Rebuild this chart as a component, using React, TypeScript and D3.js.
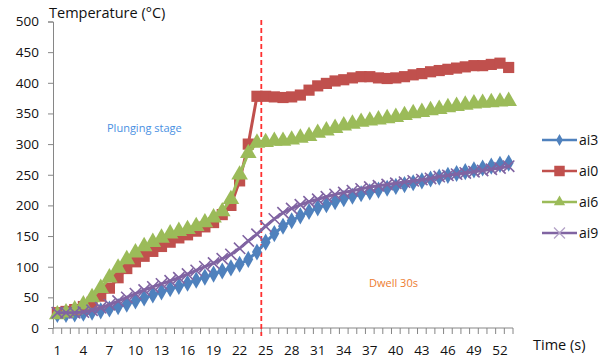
import React, { useEffect, useRef } from 'react';
import * as d3 from 'd3';

const times = d3.range(1, 54);
const tickLabels = [1, 4, 7, 10, 13, 16, 19, 22, 25, 28, 31, 34, 37, 40, 43, 46, 49, 52];
const yTicks = [0, 50, 100, 150, 200, 250, 300, 350, 400, 450, 500];

const ai3 = [22, 22, 23, 24, 26, 28, 31, 35, 39, 44, 49, 54, 59, 64, 68, 73, 78, 83, 88, 93, 98, 104, 112, 124,
  140, 154, 166, 175, 183, 190, 196, 201, 206, 211, 215, 219, 222, 225, 228, 231, 234, 237, 240, 243, 246, 249,
  252, 255, 258, 261, 264, 267, 269];
const ai0 = [25, 27, 30, 35, 42, 52, 65, 82, 97, 108, 117, 125, 133, 140, 147, 152, 158, 165, 172, 185, 200, 240,
  300, 378, 378, 377, 376, 377, 380, 388, 395, 399, 403, 405, 408, 410, 410, 408, 407, 408, 410, 413, 415, 418,
  420, 422, 424, 426, 428, 428, 430, 432, 425];
const ai6 = [22, 25, 30, 38, 50, 65, 82, 98, 112, 123, 133, 140, 147, 154, 158, 161, 166, 172, 180, 190, 210, 250,
  285, 302, 303, 305, 305, 307, 310, 313, 318, 322, 326, 330, 333, 336, 338, 340, 342, 344, 347, 350, 352, 355,
  357, 360, 362, 364, 366, 367, 368, 369, 370];
const ai9 = [25, 25, 25, 26, 29, 33, 38, 44, 50, 56, 62, 67, 72, 77, 82, 88, 94, 100, 106, 113, 120, 130, 142, 153,
  166, 178, 188, 195, 201, 206, 210, 214, 218, 221, 224, 227, 230, 232, 234, 236, 238, 240, 242, 244, 247, 249,
  251, 253, 255, 257, 259, 261, 264];

const series = [
  { name: 'ai3', values: ai3, color: '#4f81bd', marker: 'diamond' },
  { name: 'ai0', values: ai0, color: '#c0504d', marker: 'square' },
  { name: 'ai6', values: ai6, color: '#9bbb59', marker: 'triangle' },
  { name: 'ai9', values: ai9, color: '#8064a2', marker: 'cross' },
];

const FONT = '"Open Sans", Lato, sans-serif';

function App() {
  const ref = useRef<SVGSVGElement>(null);

  useEffect(() => {
    const svg = d3.select(ref.current);
    svg.selectAll('*').remove();

    const x = d3.scaleBand<number>().domain(times).range([53, 513]);
    const y = d3.scaleLinear().domain([0, 500]).range([328, 21.5]);
    const cx = (t: number) => (x(t) as number) + x.bandwidth() / 2;

    // y axis
    const yAxis = d3.axisLeft(y).tickValues(yTicks).tickSize(5).tickPadding(9);
    const gy = svg.append('g').attr('transform', 'translate(53,0)').call(yAxis);
    gy.select('.domain').attr('stroke', '#868686');
    gy.selectAll('.tick line').attr('stroke', '#868686');
    gy.selectAll('.tick text').attr('font-family', FONT).attr('font-size', 13.5).attr('fill', '#111');

    // x axis: ticks between categories like excel
    const gx = svg.append('g');
    gx.append('line').attr('x1', 53).attr('x2', 513).attr('y1', 328).attr('y2', 328).attr('stroke', '#868686');
    gx.selectAll('.tk')
      .data(times.concat([54]))
      .enter()
      .append('line')
      .attr('x1', (d) => (d === 54 ? 513 : (x(d) as number)))
      .attr('x2', (d) => (d === 54 ? 513 : (x(d) as number)))
      .attr('y1', 328)
      .attr('y2', 334)
      .attr('stroke', '#868686');
    gx.selectAll('.lbl')
      .data(tickLabels)
      .enter()
      .append('text')
      .attr('x', (d) => cx(d))
      .attr('y', 355)
      .attr('text-anchor', 'middle')
      .attr('font-family', FONT)
      .attr('font-size', 13.5)
      .attr('fill', '#111')
      .text((d) => d);

    // dwell line
    svg.append('line')
      .attr('x1', x(25) as number).attr('x2', x(25) as number)
      .attr('y1', 20).attr('y2', 336)
      .attr('stroke', '#ff3030').attr('stroke-width', 1.8).attr('stroke-dasharray', '5,3');

    const line = d3.line<number>().x((d, i) => cx(times[i])).y((d) => y(d));
    const symbols: any = {
      diamond: d3.symbol().type(d3.symbolDiamond).size(85),
      square: d3.symbol().type(d3.symbolSquare).size(125),
      triangle: d3.symbol().type(d3.symbolTriangle).size(120),
      cross: d3.symbol().type(d3.symbolX).size(85),
    };
    const legendSymbols: any = {
      diamond: d3.symbol().type(d3.symbolDiamond).size(40),
      square: d3.symbol().type(d3.symbolSquare).size(110),
      triangle: d3.symbol().type(d3.symbolTriangle).size(55),
      cross: d3.symbol().type(d3.symbolX).size(80),
    };

    series.forEach((s) => {
      const g = svg.append('g');
      g.append('path').attr('d', line(s.values)).attr('fill', 'none').attr('stroke', s.color).attr('stroke-width', 3);
      g.selectAll('path.m')
        .data(s.values)
        .enter()
        .append('path')
        .attr('class', 'm')
        .attr('d', symbols[s.marker]())
        .attr('transform', (d, i) => `translate(${cx(times[i])},${y(d)})`)
        .attr('fill', s.marker === 'cross' ? 'none' : s.color)
        .attr('stroke', s.marker === 'cross' ? s.color : 'none')
        .attr('stroke-width', 1.6);
    });

    // legend
    series.forEach((s, i) => {
      const ly = 140 + i * 31;
      const g = svg.append('g');
      g.append('line').attr('x1', 542).attr('x2', 577).attr('y1', ly).attr('y2', ly).attr('stroke', s.color).attr('stroke-width', 2.5);
      g.append('path')
        .attr('d', legendSymbols[s.marker]())
        .attr('transform', `translate(559.5,${ly})`)
        .attr('fill', s.marker === 'cross' ? 'none' : s.color)
        .attr('stroke', s.marker === 'cross' ? '#b3a2c7' : 'none')
        .attr('stroke-width', 1.3);
      g.append('text').attr('x', 579).attr('y', ly + 5).attr('font-family', FONT).attr('font-size', 14).attr('fill', '#111').text(s.name);
    });

    // titles and notes
    svg.append('text').attr('x', 49).attr('y', 18).attr('font-family', FONT).attr('font-size', 14.5).attr('fill', '#111').text('Temperature (°C)');
    svg.append('text').attr('x', 533).attr('y', 350).attr('font-family', FONT).attr('font-size', 14.5).attr('fill', '#111').text('Time (s)');
    svg.append('text').attr('x', 107).attr('y', 132).attr('font-family', FONT).attr('font-size', 11).attr('fill', '#4a90e2').text('Plunging stage');
    svg.append('text').attr('x', 369).attr('y', 287).attr('font-family', FONT).attr('font-size', 11).attr('fill', '#ed7d31').text('Dwell 30s');
  }, []);

  return (
    <div style={{ position: 'absolute', left: 0, top: 0 }}>
      <svg ref={ref} width={611} height={360} style={{ display: 'block', background: '#fff' }} />
    </div>
  );
}

export default App;
